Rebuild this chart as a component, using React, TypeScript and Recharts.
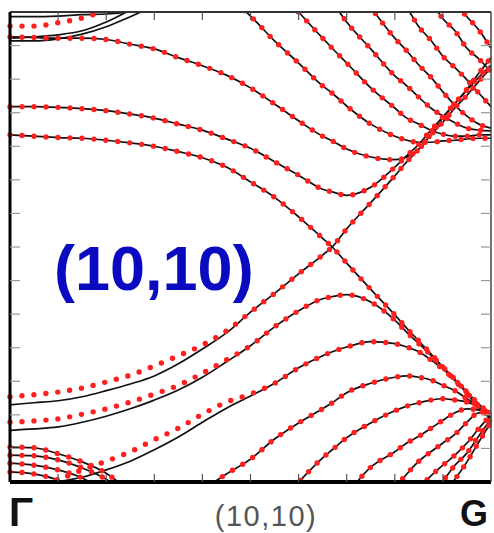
import React from "react";
import { LineChart, Line, XAxis, YAxis } from "recharts";

// wave vector along Γ–G, as a fraction of the path
const K = [0, 0.05, 0.1, 0.15, 0.2, 0.25, 0.3, 0.35, 0.4, 0.45, 0.5, 0.55, 0.6, 0.65, 0.67, 0.7, 0.75, 0.8, 0.825, 0.85, 0.875, 0.9, 0.925, 0.95, 0.975, 1];

// pads a band that only covers part of the path with nulls
const span = (start: number, vals: number[]) =>
  K.map((_k, i) => (i >= start && i < start + vals.length ? vals[i - start] : null));

// energies (eV), black = first-principles bands
const U0A = span(0, [3.43, 3.43, 3.44, 3.46, 3.47, 3.51, 3.6]);
const U0C = span(0, [3.11, 3.13, 3.16, 3.22, 3.35, 3.53]);
const U0D = span(0, [3.07, 3.07, 3.1, 3.17, 3.28, 3.43, 3.59]);
const U1 = [3.13, 3.12, 3.11, 3.11, 3.09, 3.02, 2.95, 2.82, 2.7, 2.56, 2.37, 2.13, 1.88, 1.65, 1.58, 1.46, 1.34, 1.3, 1.34, 1.46, 1.68, 1.92, 2.13, 2.35, 2.59, 2.82];
const U2 = [2.09, 2.09, 2.08, 2.06, 2.03, 1.98, 1.92, 1.83, 1.74, 1.61, 1.47, 1.27, 1.07, 0.86, 0.82, 0.77, 0.89, 1.19, 1.36, 1.53, 1.74, 1.94, 2.14, 2.34, 2.53, 2.71];
const C1 = [1.67, 1.65, 1.63, 1.62, 1.59, 1.55, 1.5, 1.42, 1.33, 1.19, 0.97, 0.74, 0.45, 0.13, 0, -0.24, -0.63, -1.01, -1.21, -1.4, -1.59, -1.79, -1.99, -2.18, -2.41, -2.55];
const U4 = span(9, [3.75, 3.44, 3.07, 2.74, 2.4, 2.29, 2.1, 1.83, 1.65, 1.59, 1.56, 1.56, 1.58, 1.59, 1.61, 1.62, 1.62]);
const U5 = span(11, [3.9, 3.5, 3.11, 2.96, 2.74, 2.37, 2.07, 1.92, 1.83, 1.74, 1.68, 1.65, 1.65, 1.67, 1.67]);
const U6 = span(13, [3.83, 3.65, 3.35, 2.95, 2.55, 2.4, 2.23, 2.07, 1.95, 1.85, 1.77, 1.74, 1.73]);
const U7 = span(15, [4.05, 3.57, 3.11, 2.92, 2.71, 2.53, 2.31, 2.11, 1.95, 1.83, 1.77]);
const U8 = span(17, [3.83, 3.57, 3.28, 3.08, 2.84, 2.67, 2.49, 2.29, 2.09]);
const U9 = span(19, [3.86, 3.65, 3.4, 3.22, 2.96, 2.8, 2.61]);
const U10 = span(21, [3.9, 3.65, 3.43, 3.23, 2.96]);
const C2 = [-2.35, -2.32, -2.29, -2.23, -2.14, -2.04, -1.92, -1.74, -1.52, -1.28, -0.97, -0.69, -0.4, -0.12, 0, 0.27, 0.66, 1.06, 1.27, 1.46, 1.67, 1.86, 2.07, 2.26, 2.47, 2.67];
const L2 = [-2.73, -2.71, -2.68, -2.61, -2.52, -2.41, -2.28, -2.13, -1.94, -1.71, -1.47, -1.19, -0.95, -0.77, -0.74, -0.71, -0.82, -1.09, -1.27, -1.44, -1.61, -1.79, -1.97, -2.17, -2.37, -2.53];
const L3 = span(1, [-3.62, -3.5, -3.43, -3.32, -3.19, -3.02, -2.83, -2.61, -2.4, -2.22, -2.03, -1.8, -1.62, -1.56, -1.49, -1.41, -1.44, -1.49, -1.56, -1.68, -1.82, -1.98, -2.16, -2.34, -2.49]);
const L4 = span(8, [-3.62, -3.38, -3.16, -2.86, -2.62, -2.41, -2.32, -2.17, -2.03, -1.94, -1.92, -1.94, -1.98, -2.06, -2.14, -2.26, -2.38, -2.49]);
const L5 = span(11, [-3.85, -3.5, -3.14, -3.02, -2.84, -2.62, -2.44, -2.37, -2.32, -2.28, -2.26, -2.28, -2.31, -2.38, -2.49]);
const L6 = span(15, [-3.69, -3.28, -3.05, -2.92, -2.82, -2.7, -2.58, -2.47, -2.41, -2.43, -2.5]);
const L7 = span(17, [-3.59, -3.38, -3.19, -3.05, -2.92, -2.79, -2.61, -2.47, -2.49]);
const L8 = span(19, [-3.6, -3.41, -3.25, -3.1, -2.92, -2.7, -2.5]);
const L9 = span(20, [-3.72, -3.49, -3.25, -3.07, -2.81, -2.56]);
const L10 = span(21, [-3.71, -3.46, -3.2, -2.9, -2.61]);
const B1 = span(0, [-2.98, -2.99, -3.08, -3.2, -3.37, -3.65]);
const B2 = span(0, [-3.1, -3.11, -3.17, -3.29, -3.46, -3.74]);
const B3 = span(0, [-3.22, -3.25, -3.32, -3.44, -3.65]);
const B4 = span(0, [-3.35, -3.38, -3.47, -3.62]);

// red dots = tight-binding fit, where it leaves the black bands
const U0A_TB = span(0, [3.29, 3.29, 3.34, 3.41, 3.53, 3.68]);
const C2_TB = [-2.23, -2.2, -2.16, -2.1, -2.01, -1.91, -1.77, -1.62, -1.46, -1.25, -0.97, -0.69, -0.4, -0.12, 0, 0.27, 0.66, 1.06, 1.27, 1.46, 1.67, 1.86, 2.07, 2.26, 2.47, 2.67];
const L2_TB = [-2.61, -2.59, -2.56, -2.49, -2.41, -2.31, -2.19, -2.06, -1.88, -1.68, -1.47, -1.19, -0.95, -0.77, -0.74, -0.71, -0.82, -1.09, -1.27, -1.44, -1.61, -1.79, -1.97, -2.17, -2.37, -2.53];
const L3_TB = span(1, [-3.6, -3.47, -3.32, -3.19, -3.05, -2.87, -2.7, -2.49, -2.31, -2.19, -2.03, -1.8, -1.62, -1.56, -1.49, -1.41, -1.44, -1.49, -1.56, -1.68, -1.82, -1.98, -2.16, -2.34, -2.49]);

const X_TICKS = [0.1, 0.2, 0.3, 0.4, 0.5, 0.6, 0.7, 0.8, 0.9];
const Y_TICKS = [-3, -2.5, -2, -1.5, -1, -0.5, 0, 0.5, 1, 1.5, 2, 2.5, 3];

const DFT: Record<string, (number | null)[]> = {
  u0a: U0A, u0c: U0C, u0d: U0D, u1: U1, u2: U2, c1: C1,
  u4: U4, u5: U5, u6: U6, u7: U7, u8: U8, u9: U9, u10: U10,
  c2: C2, l2: L2, l3: L3, l4: L4, l5: L5, l6: L6, l7: L7, l8: L8, l9: L9, l10: L10,
  b1: B1, b2: B2, b3: B3, b4: B4,
};

const TB: Record<string, (number | null)[]> = {
  t_u0a: U0A_TB, t_u1: U1, t_u2: U2, t_c1: C1,
  t_u4: U4, t_u5: U5, t_u6: U6, t_u7: U7, t_u8: U8, t_u9: U9, t_u10: U10,
  t_c2: C2_TB, t_l2: L2_TB, t_l3: L3_TB, t_l4: L4, t_l5: L5, t_l6: L6, t_l7: L7, t_l8: L8, t_l9: L9, t_l10: L10,
  t_b1: B1, t_b2: B2, t_b3: B3, t_b4: B4,
};

const rows = K.map((k, i) => {
  const row: Record<string, number | null> = { k };
  for (const [key, vals] of Object.entries(DFT)) row[key] = vals[i];
  for (const [key, vals] of Object.entries(TB)) row[key] = vals[i];
  return row;
});

const FONT = "'Liberation Sans', Arial, sans-serif";
const noLabel = () => <g />;

export default function App() {
  return (
    <div style={{ position: "absolute", left: 0, top: 0, width: 494, height: 533, background: "#fff" }}>
      <LineChart width={494} height={533} data={rows} margin={{ top: 12, right: 3, bottom: 51, left: 10 }}>
        {Object.keys(DFT).map((key) => (
          <Line
            key={key}
            xAxisId="b"
            yAxisId="l"
            type="monotone"
            dataKey={key}
            stroke="#111"
            strokeWidth={1.7}
            dot={false}
            activeDot={false}
            isAnimationActive={false}
          />
        ))}
        {Object.keys(TB).map((key) => (
          <Line
            key={key}
            xAxisId="b"
            yAxisId="l"
            type="monotone"
            dataKey={key}
            stroke="#ff1f1f"
            strokeWidth={5.4}
            strokeDasharray="0 12"
            strokeLinecap="round"
            dot={false}
            activeDot={false}
            isAnimationActive={false}
          />
        ))}
        <XAxis
          xAxisId="b"
          type="number"
          dataKey="k"
          domain={[0, 1]}
          ticks={X_TICKS}
          tick={noLabel}
          mirror
          tickSize={8}
          axisLine={{ stroke: "#000", strokeWidth: 4 }}
          tickLine={{ stroke: "#555", strokeWidth: 1.2 }}
        />
        <XAxis
          xAxisId="t"
          orientation="top"
          type="number"
          dataKey="k"
          domain={[0, 1]}
          ticks={X_TICKS}
          tick={noLabel}
          mirror
          tickSize={8}
          axisLine={{ stroke: "#333", strokeWidth: 2 }}
          tickLine={{ stroke: "#555", strokeWidth: 1.2 }}
        />
        <YAxis
          yAxisId="l"
          type="number"
          domain={[-3.5, 3.5]}
          allowDataOverflow
          ticks={Y_TICKS}
          tick={noLabel}
          mirror
          tickSize={10}
          axisLine={{ stroke: "#000", strokeWidth: 3 }}
          tickLine={{ stroke: "#999", strokeWidth: 1.2 }}
        />
        <YAxis
          yAxisId="r"
          orientation="right"
          type="number"
          domain={[-3.5, 3.5]}
          allowDataOverflow
          ticks={Y_TICKS}
          tick={noLabel}
          mirror
          tickSize={10}
          axisLine={{ stroke: "#444", strokeWidth: 1.5 }}
          tickLine={{ stroke: "#999", strokeWidth: 1.2 }}
        />
      </LineChart>
      <svg
        width={494}
        height={533}
        style={{ position: "absolute", left: 0, top: 0, pointerEvents: "none" }}
      >
        <text x={54} y={290} fontFamily={FONT} fontSize={63} fontWeight="bold" fill="#0a0ac0">
          (10,10)
        </text>
        <text x={9} y={526} fontFamily={FONT} fontSize={40} fontWeight="bold" fill="#111">
          Γ
        </text>
        <text x={266} y={526} textAnchor="middle" fontFamily={FONT} fontSize={29} fill="#555" letterSpacing={1.5}>
          (10,10)
        </text>
        <text x={488} y={526} textAnchor="end" fontFamily={FONT} fontSize={36} fontWeight="bold" fill="#111">
          G
        </text>
      </svg>
    </div>
  );
}
